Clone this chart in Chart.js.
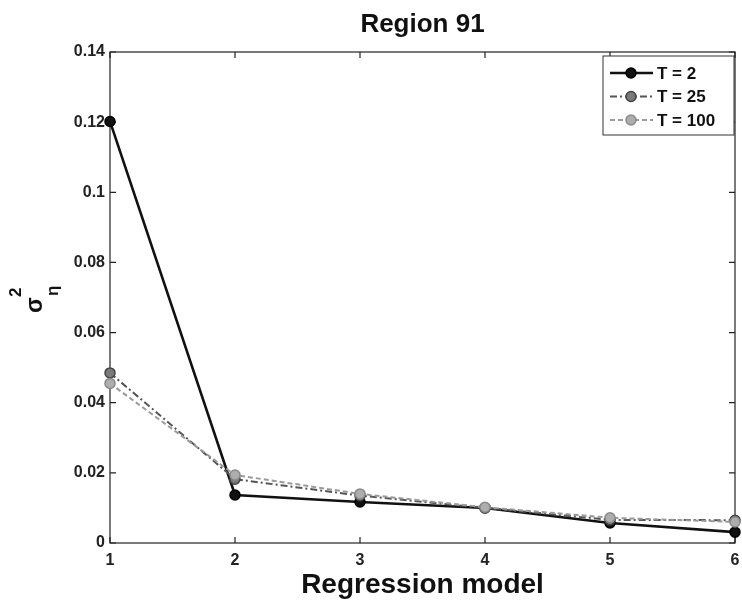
<!DOCTYPE html>
<html>
<head>
<meta charset="utf-8">
<title>Region 91</title>
<script src="https://cdn.jsdelivr.net/npm/chart.js@4.4.1/dist/chart.umd.min.js"></script>
<style>
  html, body { margin: 0; padding: 0; background: #fff; }
  canvas { display: block; }
</style>
</head>
<body>
<canvas id="chart" width="742" height="604"></canvas>
<script>
// values
const models = [1, 2, 3, 4, 5, 6];
const t2 = [0.1202, 0.0137, 0.0117, 0.0100, 0.0057, 0.0031];
const t25 = [0.0485, 0.0182, 0.0135, 0.0100, 0.0066, 0.0065];
const t100 = [0.0455, 0.0194, 0.0140, 0.0102, 0.0072, 0.0060];
const seriesNames = ['T = 2', 'T = 25', 'T = 100'];
const yTicks = [0, 0.02, 0.04, 0.06, 0.08, 0.1, 0.12, 0.14];

const FONT = '"Liberation Sans", Arial, sans-serif';

const styles = [
  { line: '#111', fill: '#111', edge: '#000', dash: [], width: 2.6 },
  { line: '#555', fill: '#7a7a7a', edge: '#444', dash: [7, 3, 2, 3], width: 2 },
  { line: '#9a9a9a', fill: '#adadad', edge: '#8a8a8a', dash: [5, 3], width: 2 }
];

function toPoints(vals) {
  return models.map((m, i) => ({ x: m, y: vals[i] }));
}

const datasets = [t2, t25, t100].map((vals, i) => ({
  label: seriesNames[i],
  data: toPoints(vals),
  borderColor: styles[i].line,
  backgroundColor: styles[i].fill,
  pointBorderColor: styles[i].edge,
  pointBackgroundColor: styles[i].fill,
  borderWidth: styles[i].width,
  borderDash: styles[i].dash,
  pointRadius: 5,
  pointBorderWidth: 1.5,
  tension: 0,
  clip: false
})).reverse();

// matlab-like box, inward ticks, title, y label
const matlabAxes = {
  id: 'matlabAxes',
  beforeDatasetsDraw(chart) {
    const { ctx, chartArea: a, scales } = chart;
    ctx.save();
    ctx.strokeStyle = '#222';
    ctx.lineWidth = 1.2;
    ctx.setLineDash([]);
    ctx.strokeRect(a.left, a.top, a.right - a.left, a.bottom - a.top);

    const tl = 6;
    ctx.beginPath();
    models.forEach(m => {
      const px = scales.x.getPixelForValue(m);
      ctx.moveTo(px, a.bottom); ctx.lineTo(px, a.bottom - tl);
      ctx.moveTo(px, a.top); ctx.lineTo(px, a.top + tl);
    });
    yTicks.forEach(v => {
      const py = scales.y.getPixelForValue(v);
      ctx.moveTo(a.left, py); ctx.lineTo(a.left + tl, py);
      ctx.moveTo(a.right, py); ctx.lineTo(a.right - tl, py);
    });
    ctx.stroke();
    ctx.restore();
  },
  afterDraw(chart) {
    const { ctx, chartArea: a } = chart;
    ctx.save();
    // title
    ctx.fillStyle = '#111';
    ctx.font = 'bold 26px ' + FONT;
    ctx.textAlign = 'center';
    ctx.textBaseline = 'middle';
    ctx.fillText('Region 91', (a.left + a.right) / 2, 25);

    // y label: sigma_eta^2, rotated
    ctx.translate(36, 305);
    ctx.rotate(-Math.PI / 2);
    ctx.textAlign = 'left';
    ctx.textBaseline = 'alphabetic';
    ctx.font = 'bold 23px ' + FONT;
    ctx.fillText('σ', -8, 6);
    ctx.font = 'bold 17px ' + FONT;
    ctx.fillText('2', 8, -15);
    ctx.fillText('η', 9, 22);
    ctx.restore();
  }
};

const legendBox = {
  id: 'legendBox',
  afterDraw(chart) {
    const { ctx } = chart;
    const x0 = 603, y0 = 56, w = 131, h = 79;
    ctx.save();
    ctx.fillStyle = '#fff';
    ctx.fillRect(x0, y0, w, h);
    ctx.strokeStyle = '#333';
    ctx.lineWidth = 1;
    ctx.strokeRect(x0, y0, w, h);
    seriesNames.forEach((name, i) => {
      const y = y0 + 17 + i * 23.5;
      const s = styles[i];
      ctx.strokeStyle = s.line;
      ctx.lineWidth = s.width;
      ctx.setLineDash(s.dash);
      ctx.beginPath();
      ctx.moveTo(610, y); ctx.lineTo(653, y);
      ctx.stroke();
      ctx.setLineDash([]);
      ctx.beginPath();
      ctx.arc(631, y, 5, 0, Math.PI * 2);
      ctx.fillStyle = s.fill;
      ctx.fill();
      ctx.strokeStyle = s.edge;
      ctx.lineWidth = 1.5;
      ctx.stroke();
      ctx.fillStyle = '#111';
      ctx.font = 'bold 17px ' + FONT;
      ctx.textAlign = 'left';
      ctx.textBaseline = 'middle';
      ctx.fillText(name, 657, y + 1);
    });
    ctx.restore();
  }
};

new Chart(document.getElementById('chart'), {
  type: 'line',
  data: { datasets },
  options: {
    responsive: false,
    animation: false,
    layout: { padding: { top: 52, right: 7, left: 0, bottom: 0 } },
    plugins: {
      legend: { display: false },
      tooltip: { enabled: false },
      title: { display: false }
    },
    scales: {
      x: {
        type: 'linear',
        min: 1,
        max: 6,
        afterFit(scale) {
          scale.height = 61;
          scale.paddingLeft = 0;
          scale.paddingRight = 0;
        },
        afterBuildTicks(scale) { scale.ticks = models.map(v => ({ value: v })); },
        grid: { display: false, drawTicks: false },
        border: { display: false },
        ticks: {
          padding: 8,
          color: '#222',
          font: { family: FONT, size: 16, weight: 'bold' },
          callback: v => String(v)
        },
        title: {
          display: true,
          text: 'Regression model',
          color: '#111',
          padding: { top: 0, bottom: 2 },
          font: { family: FONT, size: 28, weight: 'bold' }
        }
      },
      y: {
        type: 'linear',
        min: 0,
        max: 0.14,
        afterFit(scale) {
          scale.width = 110;
          scale.paddingTop = 0;
          scale.paddingBottom = 0;
        },
        afterBuildTicks(scale) { scale.ticks = yTicks.map(v => ({ value: v })); },
        grid: { display: false, drawTicks: false },
        border: { display: false },
        ticks: {
          padding: 5,
          color: '#222',
          font: { family: FONT, size: 16, weight: 'bold' },
          callback: v => String(Number(v.toFixed(2)))
        }
      }
    }
  },
  plugins: [matlabAxes, legendBox]
});
</script>
</body>
</html>
